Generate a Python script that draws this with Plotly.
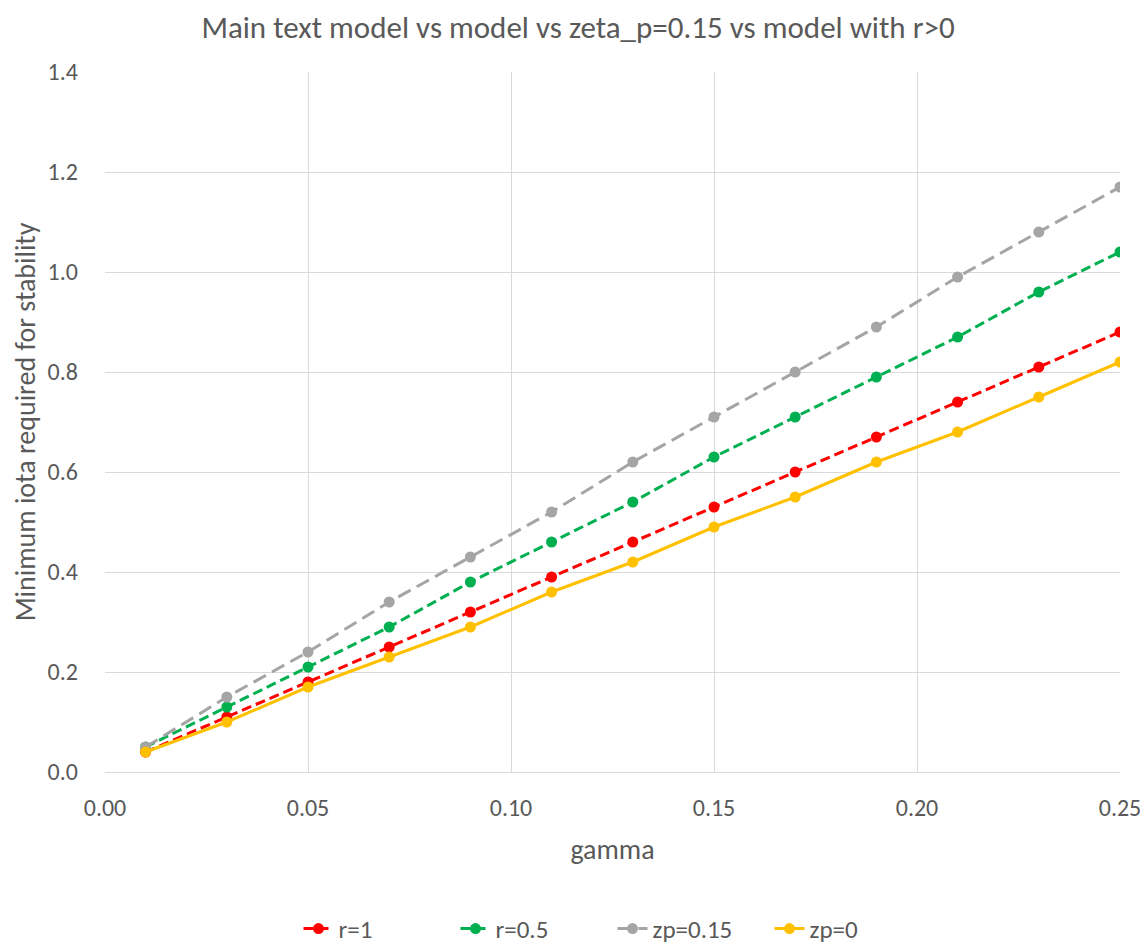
import plotly.graph_objects as go

gamma = [0.01, 0.03, 0.05, 0.07, 0.09, 0.11, 0.13, 0.15, 0.17, 0.19, 0.21, 0.23, 0.25]
r1 = [0.04, 0.11, 0.18, 0.25, 0.32, 0.39, 0.46, 0.53, 0.60, 0.67, 0.74, 0.81, 0.88]
r05 = [0.05, 0.13, 0.21, 0.29, 0.38, 0.46, 0.54, 0.63, 0.71, 0.79, 0.87, 0.96, 1.04]
zp015 = [0.05, 0.15, 0.24, 0.34, 0.43, 0.52, 0.62, 0.71, 0.80, 0.89, 0.99, 1.08, 1.17]
zp0 = [0.04, 0.10, 0.17, 0.23, 0.29, 0.36, 0.42, 0.49, 0.55, 0.62, 0.68, 0.75, 0.82]

FONT = "Carlito, Liberation Sans Narrow, Lato, Open Sans, sans-serif"
TXT = "#595959"

series = [
    ("r=1", r1, "#ff0000", "10px,5px"),
    ("r=0.5", r05, "#00b050", "10px,5px"),
    ("zp=0.15", zp015, "#a5a5a5", "14px,7px"),
    ("zp=0", zp0, "#ffc000", "solid"),
]

fig = go.Figure()
for name, ys, col, dash in series:
    fig.add_trace(go.Scatter(
        x=gamma, y=ys, name=name, mode="lines+markers",
        line=dict(color=col, width=3, dash=dash),
        marker=dict(color=col, size=11, symbol="circle"),
    ))

# page has an 8px body margin; figure is sized/offset to compensate
W, H = 1140, 936
fig.update_layout(
    width=W, height=H,
    margin=dict(l=97, r=28, t=64, b=172, autoexpand=False),
    paper_bgcolor="white", plot_bgcolor="white",
    font=dict(family=FONT, color=TXT, size=24),
    title=dict(text="Main text model vs model vs zeta_p=0.15 vs model with r>0",
               x=0.5, xanchor="center", y=1 - 19 / H, yanchor="middle",
               font=dict(size=31, color=TXT, family=FONT)),
    xaxis=dict(range=[0, 0.25], dtick=0.05, tickformat=".2f",
               showgrid=True, gridcolor="#d9d9d9", gridwidth=1.3,
               showline=True, linecolor="#d9d9d9", linewidth=1.3,
               zeroline=False, ticks="", ticklabelstandoff=14,
               tickfont=dict(size=24, color=TXT),
               title=dict(text="gamma", font=dict(size=28, color=TXT), standoff=18)),
    yaxis=dict(range=[0, 1.4], dtick=0.2, tickformat=".1f",
               showgrid=True, gridcolor="#d9d9d9", gridwidth=1.3,
               showline=False, zeroline=False, ticks="",
               ticklabelstandoff=26,
               tickfont=dict(size=24, color=TXT),
               title=dict(text="Minimum iota required for stability",
                          font=dict(size=28, color=TXT), standoff=8)),
    legend=dict(orientation="h", x=0.5, xanchor="center", y=-0.224, yanchor="middle",
                font=dict(size=25, color=TXT), entrywidth=112, entrywidthmode="pixels"),
    showlegend=True,
)

fig.write_html("out.html")
